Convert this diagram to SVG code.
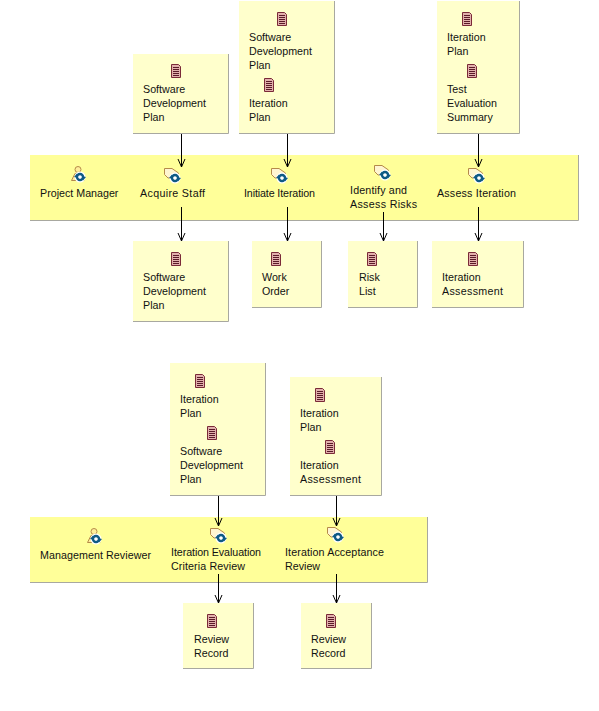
<svg xmlns="http://www.w3.org/2000/svg" width="599" height="711" viewBox="0 0 599 711">
<style>
text{font-family:"Liberation Sans",Arial,sans-serif;font-size:10.7px;fill:#111}
.n{fill:#ffffcc;stroke:none}
.sh{fill:none;stroke:#a8a8a0;stroke-width:1}
.b{fill:#ffff99}
.c{stroke:#000;stroke-width:1;fill:none;marker-end:url(#arrow)}
</style>
<defs>
<marker id="arrow" markerUnits="userSpaceOnUse" markerWidth="10" markerHeight="10" refX="0" refY="0" orient="auto" viewBox="-9 -5 10 10" overflow="visible"><path d="M-8 -3.500L0 0L-8 3.500" fill="none" stroke="#000"/></marker>
<g id="spin"><circle r="5.500" fill="#fff"/><circle r="3" fill="#fff" stroke="#0f5a85" stroke-width="2.400"/><path d="M-6 0L-3 -3.500L-2 1Z M6 0L3 3.500L2 -1Z" fill="#0f5a85"/></g>
<g id="doc"><path d="M-4.500 -6.500H2.500L4.500 -4.500V6.500H-4.500Z" fill="#e2b0ac" stroke="#7a2a38"/><path d="M-3 -3.500H3M-3 -1.500H3M-3 0.500H3M-3 2.500H3M-3 4.500H3" stroke="#5a1a28"/></g>
<g id="act"><path d="M-7.500 -6.500H0L6.500 -2V3H-4L-7.500 -0.500Z" fill="#fff5d0" stroke="#b58a4a"/><use href="#spin" x="3" y="3"/></g>
<g id="role"><circle cx="-1" cy="-5.500" r="3" fill="#ffee99" stroke="#b58a4a"/><path d="M-7.500 5.500L-4 -1.500H2L5 5.500Z" fill="#ffee99" stroke="#b58a4a"/><use href="#spin" x="1" y="2"/></g>
</defs>
<rect width="599" height="711" fill="#fff"/>
<g id="swimlane-1"><rect class="b" x="30" y="155" width="548" height="65"/><path class="sh" d="M30 220.500H578.500V155"/></g>
<g id="swimlane-2"><rect class="b" x="30" y="517" width="397" height="65"/><path class="sh" d="M30 582.500H427.500V517"/></g>
<g id="project-manager"><use href="#role" x="79" y="175"/><text x="40" y="197">Project Manager</text></g>
<g id="acquire-staff"><use href="#act" x="172" y="175"/><text x="140" y="197" textLength="65">Acquire Staff</text></g>
<g id="initiate-iteration"><use href="#act" x="279" y="175"/><text x="244" y="197" textLength="71">Initiate Iteration</text></g>
<g id="identify-risks"><use href="#act" x="382" y="172"/><text x="350" y="194" textLength="57">Identify and</text><text x="350" y="208" textLength="67">Assess Risks</text></g>
<g id="assess-iteration"><use href="#act" x="476" y="175"/><text x="437" y="197" textLength="79">Assess Iteration</text></g>
<g id="management-reviewer"><use href="#role" x="95" y="537"/><text x="40" y="559" textLength="111">Management Reviewer</text></g>
<g id="criteria-review"><use href="#act" x="218" y="535"/><text x="171" y="556" textLength="90">Iteration Evaluation</text><text x="171" y="570" textLength="74">Criteria Review</text></g>
<g id="acceptance-review"><use href="#act" x="335" y="534"/><text x="285" y="556" textLength="99">Iteration Acceptance</text><text x="285" y="570">Review</text></g>
<g id="in-sdp"><rect class="n" x="133" y="54" width="95" height="79"/><path class="sh" d="M133 133.500H228.500V54"/><use href="#doc" x="176" y="71"/><text x="143" y="93">Software</text><text x="143" y="107">Development</text><text x="143" y="121">Plan</text></g>
<g id="in-sdp-ip"><rect class="n" x="239" y="1" width="95" height="132"/><path class="sh" d="M239 133.500H334.500V1"/><use href="#doc" x="282" y="19"/><text x="249" y="41">Software</text><text x="249" y="55">Development</text><text x="249" y="69">Plan</text><use href="#doc" x="269" y="85"/><text x="249" y="107">Iteration</text><text x="249" y="121">Plan</text></g>
<g id="in-ip-tes"><rect class="n" x="437" y="1" width="82" height="132"/><path class="sh" d="M437 133.500H519.500V1"/><use href="#doc" x="467" y="19"/><text x="447" y="41">Iteration</text><text x="447" y="55">Plan</text><use href="#doc" x="472" y="71"/><text x="447" y="93">Test</text><text x="447" y="107">Evaluation</text><text x="447" y="121">Summary</text></g>
<g id="out-sdp"><rect class="n" x="133" y="241" width="95" height="80"/><path class="sh" d="M133 321.500H228.500V241"/><use href="#doc" x="176" y="259"/><text x="143" y="281">Software</text><text x="143" y="295">Development</text><text x="143" y="309">Plan</text></g>
<g id="out-wo"><rect class="n" x="252" y="241" width="69" height="66"/><path class="sh" d="M252 307.500H321.500V241"/><use href="#doc" x="276" y="259"/><text x="262" y="281">Work</text><text x="262" y="295">Order</text></g>
<g id="out-rl"><rect class="n" x="348" y="241" width="69" height="66"/><path class="sh" d="M348 307.500H417.500V241"/><use href="#doc" x="372" y="259"/><text x="359" y="281">Risk</text><text x="359" y="295">List</text></g>
<g id="out-ia"><rect class="n" x="432" y="241" width="91" height="66"/><path class="sh" d="M432 307.500H523.500V241"/><use href="#doc" x="473" y="259"/><text x="442" y="281">Iteration</text><text x="442" y="295" textLength="61">Assessment</text></g>
<g id="in2-ip-sdp"><rect class="n" x="170" y="363" width="95" height="132"/><path class="sh" d="M170 495.500H265.500V363"/><use href="#doc" x="200" y="381"/><text x="180" y="403">Iteration</text><text x="180" y="417">Plan</text><use href="#doc" x="212" y="433"/><text x="180" y="455">Software</text><text x="180" y="469">Development</text><text x="180" y="483">Plan</text></g>
<g id="in2-ip-ia"><rect class="n" x="290" y="377" width="91" height="118"/><path class="sh" d="M290 495.500H381.500V377"/><use href="#doc" x="320" y="395"/><text x="300" y="417">Iteration</text><text x="300" y="431">Plan</text><use href="#doc" x="330" y="447"/><text x="300" y="469">Iteration</text><text x="300" y="483" textLength="61">Assessment</text></g>
<g id="out2-rr1"><rect class="n" x="183" y="603" width="70" height="65"/><path class="sh" d="M183 668.500H253.500V603"/><use href="#doc" x="212" y="621"/><text x="194" y="643">Review</text><text x="194" y="657">Record</text></g>
<g id="out2-rr2"><rect class="n" x="301" y="603" width="70" height="65"/><path class="sh" d="M301 668.500H371.500V603"/><use href="#doc" x="331" y="621"/><text x="311" y="643">Review</text><text x="311" y="657">Record</text></g>
<g id="connectors">
<path class="c" d="M181.500 134V167"/><path class="c" d="M287.500 134V167"/><path class="c" d="M478.500 134V167"/>
<path class="c" d="M181.500 207V241"/><path class="c" d="M287.500 207V241"/><path class="c" d="M383.500 212V241"/><path class="c" d="M478.500 207V241"/>
<path class="c" d="M218.500 496V526"/><path class="c" d="M336.500 496V526"/>
<path class="c" d="M218.500 574V603"/><path class="c" d="M336.500 574V603"/>
</g>
</svg>
